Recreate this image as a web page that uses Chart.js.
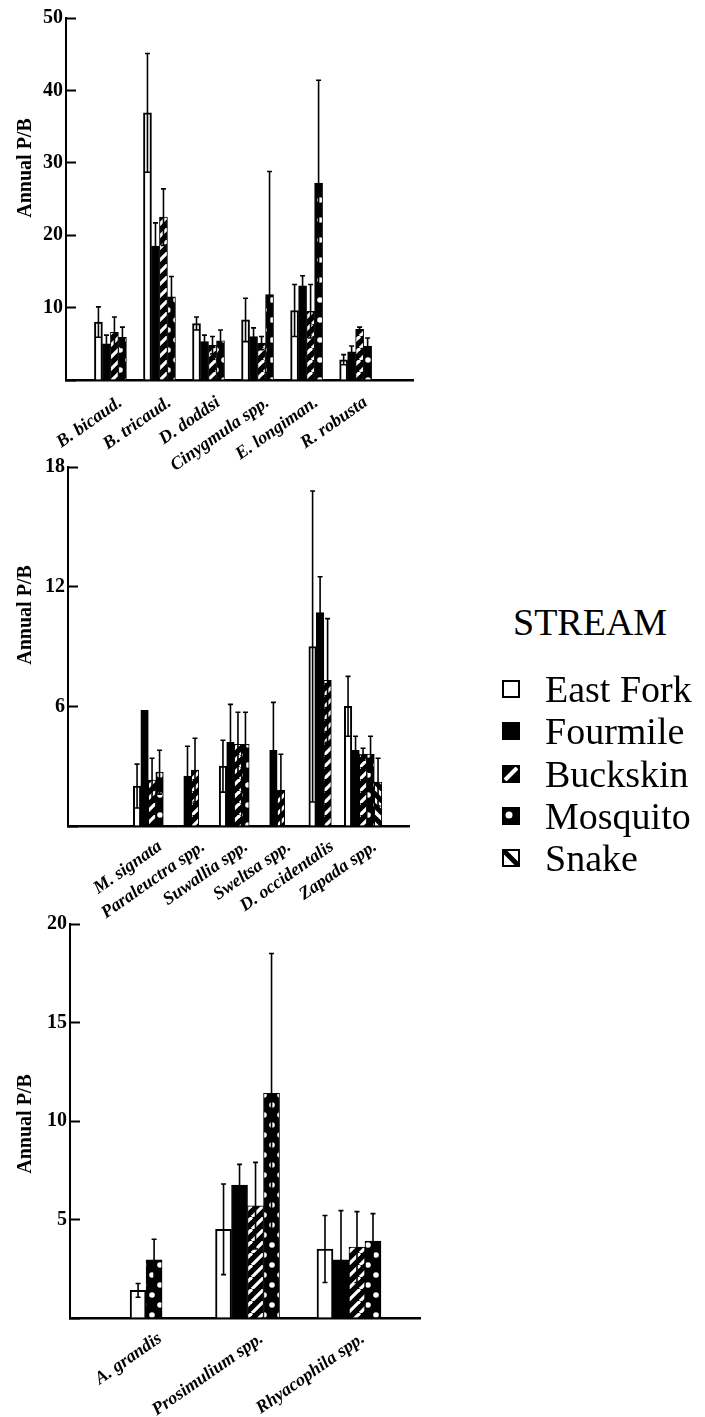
<!DOCTYPE html>
<html lang="en">
<head>
<meta charset="UTF-8">
<title>Annual P/B by stream</title>
<script src="https://cdn.jsdelivr.net/npm/chart.js"></script>
<style>
  body { margin: 0; background: #fff; width: 705px; height: 1417px; position: relative; overflow: hidden; }
  canvas.panel { position: absolute; left: 0; }
  #legend { position: absolute; left: 0; top: 0; font-family: "Liberation Serif", "Times New Roman", serif; color: #000; }
  #legend .ltitle { position: absolute; left: 513px; top: 603px; font-size: 38px; line-height: 38px; white-space: nowrap; }
  #legend .item { position: absolute; left: 502px; height: 42px; display: flex; align-items: center; white-space: nowrap; }
  #legend .item canvas { display: block; margin-right: 25px; }
  #legend .item span { font-size: 38px; line-height: 42px; }
</style>
</head>
<body>
<canvas id="c1" class="panel" width="430" height="470" style="top:0px"></canvas>
<canvas id="c2" class="panel" width="430" height="470" style="top:455px"></canvas>
<canvas id="c3" class="panel" width="430" height="512" style="top:905px"></canvas>
<div id="legend"></div>

<script>
const streams = ['East Fork', 'Fourmile', 'Buckskin', 'Mosquito', 'Snake'];

// top panel (mayflies). rows = taxa, columns follow `streams`, null = no bar
const taxa1 = ['B. bicaud.', 'B. tricaud.', 'D. doddsi', 'Cinygmula spp.', 'E. longiman.', 'R. robusta'];
const pb1 = [
  [8.0, 5.0, 6.6, 5.9, null],
  [36.9, 18.5, 22.5, 11.5, null],
  [7.8, 5.3, 4.8, 5.4, null],
  [8.3, 6.0, 5.1, 11.8, null],
  [9.6, 13.0, 9.5, 27.2, null],
  [2.8, 3.9, 7.0, 4.7, null]
];
const se1 = [
  [2.1, 1.2, 2.1, 1.4, null],
  [8.2, 3.2, 3.9, 2.8, null],
  [0.9, 0.9, 1.2, 1.5, null],
  [3.0, 1.2, 0.9, 17.0, null],
  [3.6, 1.4, 3.7, 14.2, null],
  [0.7, 0.8, 0.3, 1.1, null]
];
const yTicks1 = [0, 10, 20, 30, 40, 50];

// middle panel (stoneflies)
const taxa2 = ['M. signata', 'Paraleuctra spp.', 'Suwallia spp.', 'Sweltsa spp.', 'D. occidentalis', 'Zapada spp.'];
const pb2 = [
  [2.0, 5.8, 2.3, 2.7, null],
  [null, 2.5, 2.8, null, null],
  [3.0, 4.2, 4.1, 4.1, null],
  [null, 3.8, 1.8, null, null],
  [9.0, 10.7, 7.3, null, null],
  [6.0, 3.8, 3.6, 3.6, 2.2]
];
const se2 = [
  [1.1, 0, 1.1, 1.1, null],
  [null, 1.5, 1.6, null, null],
  [1.3, 1.9, 1.6, 1.6, null],
  [null, 2.4, 1.8, null, null],
  [7.8, 1.8, 3.1, null, null],
  [1.5, 0.7, 0.3, 0.9, 1.2]
];
const yTicks2 = [0, 6, 12, 18];

// bottom panel
const taxa3 = ['A. grandis', 'Prosimulium spp.', 'Rhyacophila spp.'];
const pb3 = [
  [1.4, null, null, 2.95, null],
  [4.5, 6.75, 5.7, 11.4, null],
  [3.5, 2.95, 3.6, 3.9, null]
];
const se3 = [
  [0.35, null, null, 1.05, null],
  [2.3, 1.05, 2.2, 7.1, null],
  [1.7, 2.5, 1.8, 1.4, null]
];
const yTicks3 = [0, 5, 10, 15, 20];

const yLabel = 'Annual P/B';
const serif = '"Liberation Serif", "Times New Roman", serif';

// fill patterns for the five streams
function tile(w, h, draw) {
  const c = document.createElement('canvas');
  c.width = w; c.height = h;
  draw(c.getContext('2d'), w, h);
  return c.getContext('2d').createPattern(c, 'repeat');
}
function stripes(ctx, t, dir) {
  for (let i = -1; i <= 1; i++) {
    ctx.beginPath();
    if (dir > 0) { ctx.moveTo(i * t, t); ctx.lineTo(i * t + t, 0); }
    else { ctx.moveTo(i * t, 0); ctx.lineTo(i * t + t, t); }
    ctx.stroke();
  }
}
const fills = [
  '#ffffff',
  '#000000',
  tile(12, 12, (ctx, w) => {
    ctx.fillStyle = '#000'; ctx.fillRect(0, 0, w, w);
    ctx.strokeStyle = '#fff'; ctx.lineWidth = 3.2;
    stripes(ctx, w, 1);
  }),
  tile(16, 20, (ctx, w, h) => {
    ctx.fillStyle = '#000'; ctx.fillRect(0, 0, w, h);
    ctx.fillStyle = '#fff';
    [[8, 10], [0, 0], [16, 0], [0, 20], [16, 20]].forEach(([x, y]) => {
      ctx.beginPath(); ctx.arc(x, y, 2.8, 0, Math.PI * 2); ctx.fill();
    });
  }),
  tile(12, 12, (ctx, w) => {
    ctx.fillStyle = '#fff'; ctx.fillRect(0, 0, w, w);
    ctx.strokeStyle = '#000'; ctx.lineWidth = 5;
    stripes(ctx, w, -1);
  })
];

const errorBars = {
  id: 'errorBars',
  afterDatasetsDraw(chart) {
    const ctx = chart.ctx, y = chart.scales.y;
    ctx.save();
    ctx.strokeStyle = '#000';
    ctx.lineWidth = 1.6;
    chart.data.datasets.forEach((ds, di) => {
      chart.getDatasetMeta(di).data.forEach((bar, i) => {
        const v = ds.data[i].y, e = ds.errors[i];
        if (v == null || !e) return;
        const yt = y.getPixelForValue(v + e);
        const yb = y.getPixelForValue(Math.max(v - e, 0));
        ctx.beginPath();
        ctx.moveTo(bar.x, yb); ctx.lineTo(bar.x, yt);
        ctx.moveTo(bar.x - 2.5, yt); ctx.lineTo(bar.x + 2.5, yt);
        ctx.moveTo(bar.x - 2.5, yb); ctx.lineTo(bar.x + 2.5, yb);
        ctx.stroke();
      });
    });
    ctx.restore();
  }
};

// axis title drawn where the original put it (not always centred on the axis)
const yTitle = {
  id: 'yTitle',
  afterDraw(chart, args, opts) {
    const ctx = chart.ctx;
    ctx.save();
    ctx.translate(opts.x, opts.y);
    ctx.rotate(-Math.PI / 2);
    ctx.font = 'bold 20px ' + serif;
    ctx.textAlign = 'center';
    ctx.textBaseline = 'middle';
    ctx.fillStyle = '#000';
    ctx.fillText(yLabel, 0, 0);
    ctx.restore();
  }
};

function panel(id, taxa, pb, se, yTicks, cfg) {
  const datasets = streams.map((s, k) => ({
    label: s,
    data: taxa.map((t, i) => ({ x: i + 1, y: pb[i][k] })),
    errors: taxa.map((t, i) => se[i][k]),
    backgroundColor: fills[k],
    borderColor: '#000',
    borderWidth: k === 0 ? 2 : 1,
    barThickness: cfg.bar,
    skipNull: true
  }));
  return new Chart(document.getElementById(id), {
    type: 'bar',
    data: { datasets },
    plugins: [errorBars, yTitle],
    options: {
      responsive: false,
      animation: false,
      events: [],
      layout: { padding: { top: cfg.padTop, right: cfg.padRight, left: 0, bottom: 0 } },
      plugins: {
        legend: { display: false },
        tooltip: { enabled: false },
        yTitle: { x: 26, y: cfg.titleY }
      },
      scales: {
        x: {
          type: 'linear',
          offset: false,
          min: cfg.xMin,
          max: cfg.xMax,
          afterBuildTicks: s => { s.ticks = taxa.map((t, i) => ({ value: i + 1 })); },
          afterFit: s => {
            s.height = cfg.xAxisH;
            s.paddingLeft = 0;
            s.paddingRight = 0;
          },
          grid: { display: false, drawTicks: false },
          border: { display: true, color: '#000', width: 2.5 },
          ticks: {
            autoSkip: false,
            minRotation: 35,
            maxRotation: 35,
            padding: cfg.labelPad,
            labelOffset: cfg.labelOffset,
            color: '#000',
            font: { family: serif, size: cfg.labelSize, style: 'italic', weight: 'bold' },
            callback: v => taxa[Math.round(v) - 1]
          }
        },
        y: {
          min: 0,
          max: yTicks[yTicks.length - 1],
          afterBuildTicks: s => { s.ticks = yTicks.map(v => ({ value: v })); },
          afterFit: s => {
            s.width = cfg.yAxisW;
            s.paddingTop = 0;
            s.paddingBottom = 0;
          },
          grid: { drawOnChartArea: false, tickLength: -10, tickWidth: 2, color: '#000' },
          border: { color: '#000', width: 2 },
          ticks: {
            padding: 13,
            color: '#000',
            font: { family: serif, size: 20, weight: 'bold' },
            callback: v => (v === 0 ? '' : v)
          }
        }
      }
    }
  });
}

panel('c1', taxa1, pb1, se1, yTicks1, {
  bar: 8, padTop: 18, padRight: 17, yAxisW: 66, xAxisH: 90,
  xMin: 0.094, xMax: 7.17, titleY: 168, labelPad: 12, labelOffset: 10, labelSize: 18
});
panel('c2', taxa2, pb2, se2, yTicks2, {
  bar: 7.5, padTop: 12, padRight: 21, yAxisW: 68, xAxisH: 99,
  xMin: -0.87, xMax: 7.07, titleY: 160, labelPad: 10, labelOffset: 12, labelSize: 18
});
panel('c3', taxa3, pb3, se3, yTicks3, {
  bar: 16, padTop: 19, padRight: 10, yAxisW: 70, xAxisH: 99,
  xMin: 0.25, xMax: 3.7, titleY: 219, labelPad: 10, labelOffset: 14, labelSize: 18
});

// legend
const legend = document.getElementById('legend');
const title = document.createElement('div');
title.className = 'ltitle';
title.textContent = 'STREAM';
legend.appendChild(title);

function swatch(k) {
  const c = document.createElement('canvas');
  c.width = 18; c.height = 18;
  const ctx = c.getContext('2d');
  ctx.fillStyle = k === 0 || k === 4 ? '#fff' : '#000';
  ctx.fillRect(0, 0, 18, 18);
  if (k === 2) {
    ctx.strokeStyle = '#fff'; ctx.lineWidth = 4;
    ctx.beginPath(); ctx.moveTo(3, 15); ctx.lineTo(15, 3); ctx.stroke();
  } else if (k === 3) {
    ctx.fillStyle = '#fff';
    ctx.beginPath(); ctx.arc(7, 8, 3.5, 0, Math.PI * 2); ctx.fill();
  } else if (k === 4) {
    ctx.strokeStyle = '#000'; ctx.lineWidth = 5;
    ctx.beginPath(); ctx.moveTo(1, 1); ctx.lineTo(17, 17); ctx.stroke();
  }
  ctx.strokeStyle = '#000'; ctx.lineWidth = 2;
  ctx.strokeRect(1, 1, 16, 16);
  return c;
}

streams.forEach((s, k) => {
  const row = document.createElement('div');
  row.className = 'item';
  row.style.top = (668 + k * 42.3) + 'px';
  row.appendChild(swatch(k));
  const t = document.createElement('span');
  t.textContent = s;
  row.appendChild(t);
  legend.appendChild(row);
});
</script>
</body>
</html>
